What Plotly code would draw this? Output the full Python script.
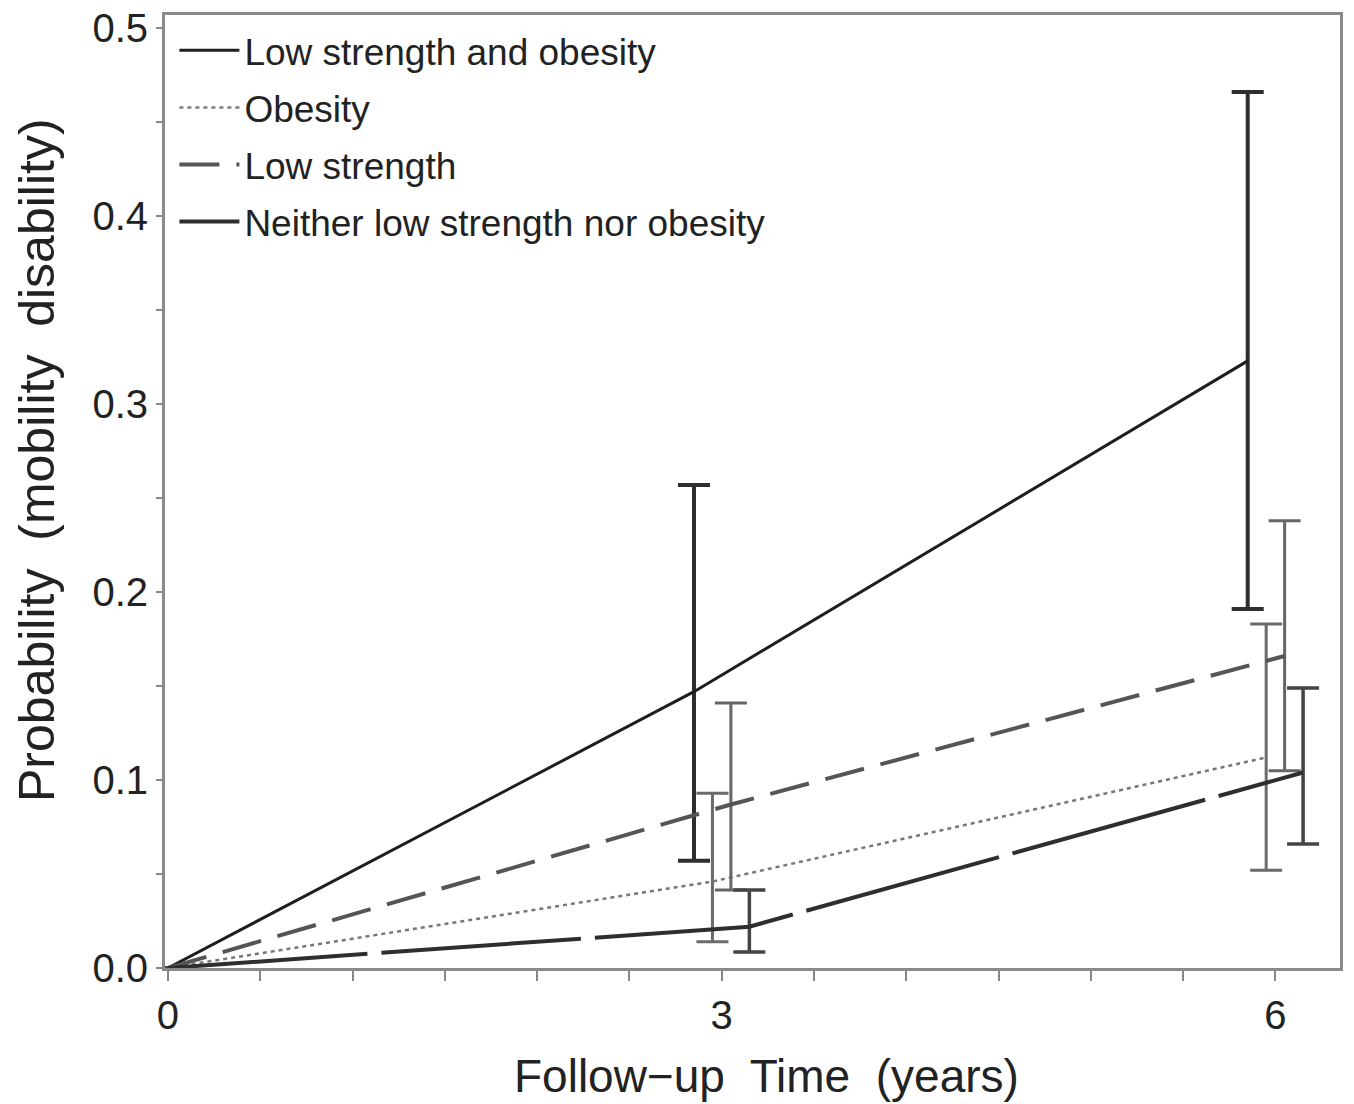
import plotly.graph_objects as go

# ---- data ----
times = [0, 3, 6]
series_names = [
    "Low strength and obesity",
    "Obesity",
    "Low strength",
    "Neither low strength nor obesity",
]
lso_p = [0.0, 0.147, 0.323]
lso_lo = [None, 0.057, 0.191]
lso_hi = [None, 0.257, 0.466]

ob_p = [0.0, 0.046, 0.112]
ob_lo = [None, 0.014, 0.052]
ob_hi = [None, 0.093, 0.183]

ls_p = [0.0, 0.087, 0.166]
ls_lo = [None, 0.0415, 0.105]
ls_hi = [None, 0.141, 0.238]

ne_p = [0.0, 0.022, 0.104]
ne_lo = [None, 0.0085, 0.066]
ne_hi = [None, 0.0415, 0.149]

x_tick_vals = [0, 3, 6]
x_tick_text = ["0", "3", "6"]
y_tick_vals = [0.0, 0.1, 0.2, 0.3, 0.4, 0.5]
y_tick_text = ["0.0", "0.1", "0.2", "0.3", "0.4", "0.5"]

x_title = "Follow\u2212up\u00a0 Time\u00a0 (years)"
y_title = "Probability\u00a0 (mobility\u00a0 disability)"

# ---- styling ----
FONT = "Liberation Sans, Arial, sans-serif"
styles = [
    # (dodge offset, line color, width, dash, err color, err width)
    (-0.15, "#1e1e1e", 3, "solid", "#2e2e2e", 4),
    (-0.05, "#777777", 2.5, "4px,4px", "#6a6a6a", 3),
    (0.05, "#555555", 4, "40px,17px", "#666666", 3),
    (0.15, "#2e2e2e", 4, "200px,14px", "#444444", 3.5),
]
values = [
    (lso_p, lso_lo, lso_hi),
    (ob_p, ob_lo, ob_hi),
    (ls_p, ls_lo, ls_hi),
    (ne_p, ne_lo, ne_hi),
]

fig = go.Figure()
for i, (name, (p, lo, hi), (off, col, w, dash, ecol, ew)) in enumerate(zip(series_names, values, styles)):
    xs = [t + off if t > 0 else t for t in times]
    plus = [None if h is None else h - v for h, v in zip(hi, p)]
    minus = [None if l is None else v - l for l, v in zip(lo, p)]
    fig.add_trace(go.Scatter(
        x=xs, y=p, mode="lines", name=name, legendgroup=f"g{i}",
        line=dict(color=col, width=w, dash=dash),
        error_y=dict(type="data", symmetric=False, array=plus, arrayminus=minus,
                     color=ecol, thickness=ew, width=16),
    ))

fig.add_annotation(
    text=y_title, xref="paper", yref="paper", x=-0.109, y=0.533,
    xanchor="center", yanchor="middle", textangle=-90, showarrow=False,
    font=dict(size=50, family=FONT, color="#222222"),
)
fig.add_annotation(
    text=x_title, xref="paper", yref="paper", x=0.5115, y=-0.113,
    xanchor="center", yanchor="middle", showarrow=False,
    font=dict(size=46, family=FONT, color="#222222"),
)

fig.update_layout(
    width=1354, height=1104,
    margin=dict(l=165, r=14, t=15, b=136),
    paper_bgcolor="white", plot_bgcolor="white",
    font=dict(family=FONT, color="#222222"),
    showlegend=True,
    legend=dict(x=0.008, y=0.995, xanchor="left", yanchor="top",
                bgcolor="rgba(0,0,0,0)", font=dict(size=37, family=FONT, color="#222222"),
                itemwidth=60, tracegroupgap=6),
    xaxis=dict(
        range=[-0.016, 6.35], tickvals=x_tick_vals, ticktext=x_tick_text,
        ticks="outside", ticklen=10, tickwidth=2, tickcolor="#888888",
        minor=dict(dtick=0.5, tick0=0, ticks="outside", ticklen=10, tickwidth=2, tickcolor="#888888"),
        showline=True, linecolor="#8a8a8a", linewidth=3, mirror=True,
        showgrid=False, zeroline=False, automargin=False, ticklabeloverflow="allow",
        tickfont=dict(size=40, family=FONT, color="#222222"),
    ),
    yaxis=dict(
        range=[0, 0.507], tickvals=y_tick_vals, ticktext=y_tick_text,
        ticks="outside", ticklen=6, tickwidth=2, tickcolor="#888888",
        minor=dict(dtick=0.05, tick0=0, ticks="outside", ticklen=6, tickwidth=2, tickcolor="#888888"),
        showline=True, linecolor="#8a8a8a", linewidth=3, mirror=True,
        showgrid=False, zeroline=False, automargin=False, ticklabeloverflow="allow",
        tickfont=dict(size=40, family=FONT, color="#222222"),
    ),
)

fig.write_html("out.html", config={"displayModeBar": False},
               post_script="document.body.style.margin='0';")
